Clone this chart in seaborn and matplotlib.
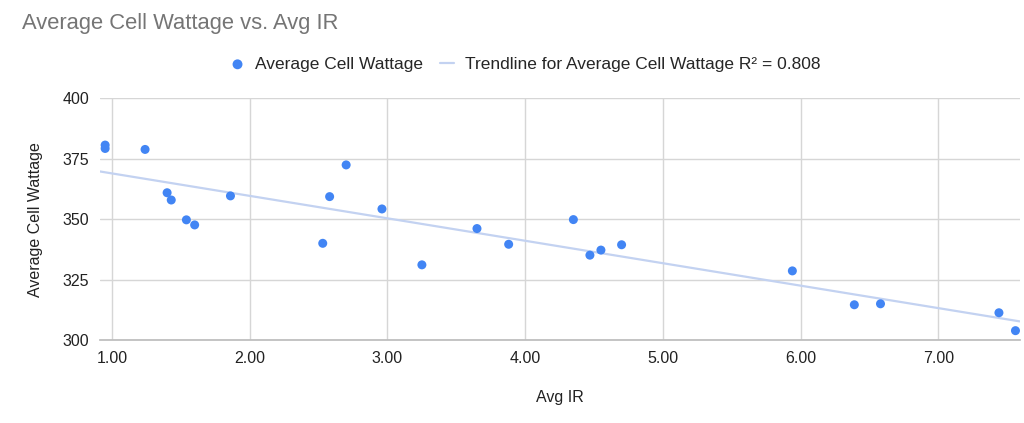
import numpy as np
import pandas as pd
import matplotlib
matplotlib.use("Agg")
import matplotlib.pyplot as plt
import seaborn as sns

# values
avg_ir = [0.95, 0.95, 1.24, 1.40, 1.43, 1.54, 1.60, 1.86, 2.53, 2.58, 2.70, 2.96,
          3.25, 3.65, 3.88, 4.35, 4.47, 4.55, 4.70, 5.94, 6.39, 6.58, 7.44, 7.56]
cell_wattage = [380.6, 379.2, 378.8, 360.9, 357.9, 349.7, 347.6, 359.6, 340.0, 359.3, 372.4, 354.2,
                331.1, 346.1, 339.6, 349.8, 335.1, 337.2, 339.4, 328.6, 314.6, 315.0, 311.3, 303.9]
x_ticks = [1, 2, 3, 4, 5, 6, 7]
y_ticks = [300, 325, 350, 375, 400]

df = pd.DataFrame({'Avg IR': avg_ir, 'Average Cell Wattage': cell_wattage})

sns.set_theme(style="white")
plt.rcParams['font.family'] = ['Liberation Sans', 'DejaVu Sans']

fig = plt.figure(figsize=(10.24, 4.23), dpi=100)
ax = fig.add_axes([0.0977, 0.196, 0.898, 0.572])

x_min, x_max = 0.913, 7.59
ax.set_xlim(x_min, x_max)
ax.set_ylim(300, 400)

# linear trendline across the whole axis
slope, intercept = np.polyfit(df['Avg IR'], df['Average Cell Wattage'], 1)
xs = np.array([x_min, x_max])
ax.plot(xs, slope * xs + intercept, color='#c3d2f1', lw=1.6, zorder=2,
        label='Trendline for Average Cell Wattage R\u00b2 = 0.808')

sns.scatterplot(data=df, x='Avg IR', y='Average Cell Wattage', ax=ax, s=42,
                color='#4285f4', edgecolor='none', zorder=3, label='Average Cell Wattage')

ax.set_xticks(x_ticks)
ax.set_xticklabels([f"{v:.2f}" for v in x_ticks])
ax.set_yticks(y_ticks)
ax.grid(True, color='#d6d6d6', lw=1)
for side in ['left', 'right', 'top']:
    ax.spines[side].set_visible(False)
ax.spines['bottom'].set_color('#bdbdbd')
ax.tick_params(axis='both', length=0, labelsize=11.5, colors='#222222', pad=8)

ax.set_xlabel('Avg IR', fontsize=11.5, color='#222222', labelpad=17)
ax.set_ylabel('Average Cell Wattage', fontsize=11.5, color='#222222', labelpad=14)

fig.text(0.021, 0.945, 'Average Cell Wattage vs. Avg IR', fontsize=15.8, color='#757575',
         va='center', ha='left')

handles, labels = ax.get_legend_handles_labels()
order = [labels.index('Average Cell Wattage'), labels.index('Trendline for Average Cell Wattage R\u00b2 = 0.808')]
ax.legend([handles[i] for i in order], [labels[i] for i in order], ncol=2, frameon=False,
          loc='center', bbox_to_anchor=(0.513, 0.848), bbox_transform=fig.transFigure,
          fontsize=12.5, handlelength=0.8, handletextpad=0.6, columnspacing=1.0, markerscale=1.1)

fig.savefig('out.png', dpi=100)
